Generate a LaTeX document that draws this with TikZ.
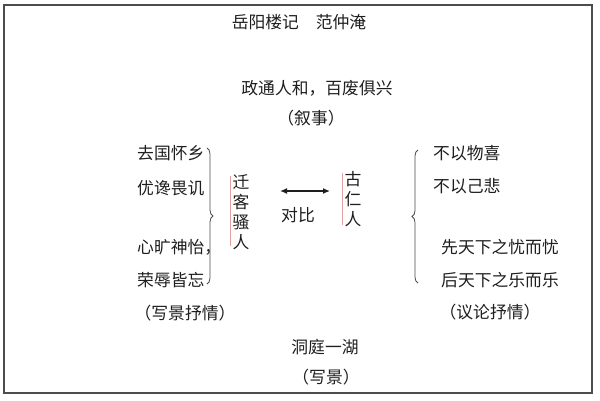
\documentclass[tikz,border=0pt]{standalone}
\usepackage{fontspec}
\setmainfont{Noto Sans CJK SC}
\usetikzlibrary{arrows.meta,decorations.pathreplacing}
\definecolor{barpink}{RGB}{226,160,160}
\definecolor{inkgray}{RGB}{30,30,30}
\begin{document}
\begin{tikzpicture}[
    x=1pt, y=-1pt,
    txt/.style={font=\fontsize{16.8}{20}\selectfont, text=inkgray, inner sep=0pt},
    vtxt/.style={txt, align=center, text width=17pt},
    pinkbar/.style={barpink, line width=1.4pt},
    bracket/.style={decorate, decoration={brace, amplitude=6pt}, thick, inkgray!80},
    contrast/.style={{Latex[length=7pt,width=6pt]}-{Latex[length=7pt,width=6pt]}, line width=1.3pt, inkgray}
]
\useasboundingbox (0,0) rectangle (600,400);

% === FRAME ===
\draw[black!70, line width=1.5pt] (4,5) rectangle (592,393);

% === TOP ===
\node[txt] (title) at (299,22) {岳阳楼记　范仲淹};
\node[txt] (zheng) at (317,88) {政通人和，百废俱兴};
\node[txt] (xushi) at (311,118) {（叙事）};

% === LEFT: qian ke sao ren ===
\node[txt, anchor=west] (qu) at (137,153) {去国怀乡};
\node[txt, anchor=west] (you) at (137,188) {优谗畏讥};
\node[txt, anchor=west] (xin) at (137,247) {心旷神怡，};
\node[txt, anchor=west] (rong) at (137,280) {荣辱皆忘};
\node[txt] (xiejing) at (185,313) {（写景抒情）};

\coordinate (lbtop) at (207,148);
\coordinate (lbbot) at (207,284);
\draw[bracket] (lbtop) -- (lbbot);

\node[vtxt] (ke) at (241,212) {迁\\客\\骚\\人};
\draw[pinkbar] ([xshift=-2pt,yshift=-2pt]ke.north west) -- ([xshift=-2pt,yshift=4pt]ke.south west);

% === CONTRAST ===
\coordinate (arL) at (280,191);
\coordinate (arR) at (330,191);
\draw[contrast] (arL) -- (arR);
\node[txt] (duibi) at (298,215) {对比};

% === RIGHT: gu ren ren ===
\node[vtxt] (gu) at (353,199) {古\\仁\\人};
\draw[pinkbar] ([xshift=-2pt,yshift=-2pt]gu.north west) -- ([xshift=-2pt,yshift=2pt]gu.south west);

\coordinate (rbbot) at (418,283);
\coordinate (rbtop) at (418,150);
\draw[bracket] (rbbot) -- (rbtop);

\node[txt, anchor=west] (bu1) at (433,153) {不以物喜};
\node[txt, anchor=west] (bu2) at (433,186) {不以己悲};
\node[txt, anchor=west] (xian) at (441,247) {先天下之忧而忧};
\node[txt, anchor=west] (hou) at (441,280) {后天下之乐而乐};
\node[txt] (yilun) at (490,312) {（议论抒情）};

% === BOTTOM ===
\node[txt] (dongting) at (325,347) {洞庭一湖};
\node[txt] (xiejing2) at (326,377) {（写景）};

\end{tikzpicture}
\end{document}
